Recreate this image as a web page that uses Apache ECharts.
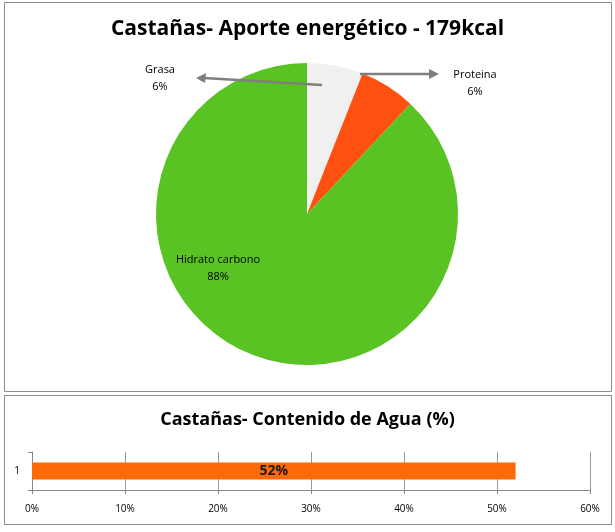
<!DOCTYPE html>
<html>
<head>
<meta charset="utf-8">
<script src="https://cdn.jsdelivr.net/npm/echarts@6/dist/echarts.min.js"></script>
<style>
html, body { margin: 0; padding: 0; background: #fff; }
#chart { width: 615px; height: 532px; }
</style>
</head>
<body>
<div id="chart"></div>
<script>
const pieNames = ['Grasa', 'Proteina', 'Hidrato carbono'];
const pieValues = [6, 6, 88];
const pieColors = ['#f0f0f0', '#fe5010', '#58c322'];
const barCategories = ['1'];
const barValues = [52];
const xTicks = [0, 10, 20, 30, 40, 50, 60];

const font = '"Open Sans", "Noto Sans", sans-serif';
const labelSpots = [
    { x: 160, y: 78, align: 'center' },
    { x: 475, y: 83, align: 'center' },
    { x: 218, y: 268, align: 'center' }
];

const chart = echarts.init(document.getElementById('chart'), null, { renderer: 'canvas' });

chart.setOption({
    backgroundColor: '#fff',
    animation: false,
    title: [
        {
            text: 'Castañas- Aporte energético - 179kcal',
            left: 'center', top: 14,
            textStyle: { fontFamily: font, fontSize: 21, fontWeight: 'bold', color: '#000' }
        },
        {
            text: 'Castañas- Contenido de Agua (%)',
            left: 'center', top: 406,
            textStyle: { fontFamily: font, fontSize: 18, fontWeight: 'bold', color: '#000' }
        }
    ],
    graphic: [
        { type: 'rect', shape: { x: 4.5, y: 2.5, width: 607, height: 389 }, style: { fill: null, stroke: '#8c8c8c', lineWidth: 1 } },
        { type: 'rect', shape: { x: 4.5, y: 395.5, width: 607, height: 129 }, style: { fill: null, stroke: '#8c8c8c', lineWidth: 1 } },
        { type: 'line', shape: { x1: 322, y1: 85, x2: 204, y2: 78 }, style: { stroke: '#7f7f7f', lineWidth: 2.5 }, z: 10 },
        { type: 'polygon', shape: { points: [[196, 78], [206, 73], [205, 83]] }, style: { fill: '#7f7f7f' }, z: 10 },
        { type: 'line', shape: { x1: 360, y1: 74, x2: 430, y2: 74 }, style: { stroke: '#7f7f7f', lineWidth: 2.5 }, z: 10 },
        { type: 'polygon', shape: { points: [[439, 74], [429, 69], [429, 79]] }, style: { fill: '#7f7f7f' }, z: 10 }
    ],
    grid: { left: 32, right: 25, top: 452, height: 38 },
    xAxis: {
        type: 'value', min: 0, max: 60, interval: 10,
        axisLine: { show: true, lineStyle: { color: '#888' } },
        axisTick: { show: true, length: 4, lineStyle: { color: '#888' } },
        splitLine: { show: true, lineStyle: { color: '#999' } },
        axisLabel: { formatter: v => xTicks.includes(v) ? v + '%' : '', fontFamily: font, fontSize: 10, color: '#000', margin: 14 }
    },
    yAxis: {
        type: 'category', data: barCategories,
        axisLine: { show: true, lineStyle: { color: '#888' } },
        axisTick: { show: true, length: 4, lineStyle: { color: '#888' } },
        axisLabel: { fontFamily: font, fontSize: 10, color: '#000', margin: 12 }
    },
    series: [
        {
            type: 'pie',
            center: [307, 214], radius: 151,
            startAngle: 90, clockwise: true,
            data: pieNames.map((n, i) => ({ name: n, value: pieValues[i], itemStyle: { color: pieColors[i] } })),
            label: {
                formatter: '{b}\n{d}%', fontFamily: font, fontSize: 11, color: '#000', lineHeight: 17
            },
            labelLine: { show: false },
            labelLayout: p => labelSpots[p.dataIndex],
            emphasis: { disabled: true }
        },
        {
            type: 'bar',
            data: barValues,
            barWidth: 17,
            itemStyle: { color: '#ff6a08' },
            label: { show: true, position: 'inside', formatter: '{c}%', fontFamily: font, fontSize: 14, fontWeight: 'bold', color: '#1a1a1a' }
        }
    ]
});
</script>
</body>
</html>
